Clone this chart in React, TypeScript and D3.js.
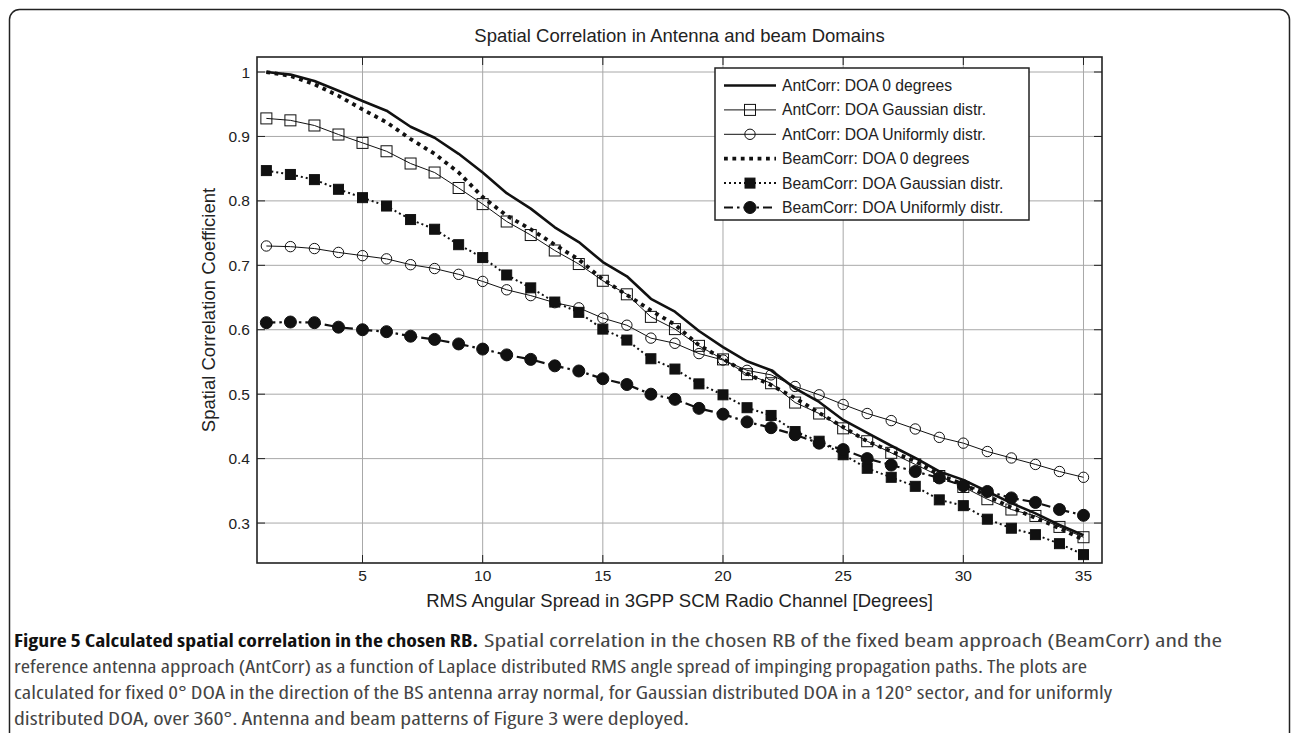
import * as d3 from "d3";

// RMS angular spread (degrees)
const spread = [1, 2, 3, 4, 5, 6, 7, 8, 9, 10, 11, 12, 13, 14, 15, 16, 17, 18, 19, 20, 21, 22, 23, 24, 25, 26, 27, 28, 29, 30, 31, 32, 33, 34, 35];

const antCorr0 = [1.0, 0.996, 0.986, 0.971, 0.955, 0.94, 0.915, 0.898, 0.873, 0.844, 0.812, 0.788, 0.759, 0.736, 0.705, 0.683, 0.648, 0.628, 0.598, 0.573, 0.551, 0.537, 0.509, 0.488, 0.46, 0.44, 0.42, 0.401, 0.38, 0.367, 0.349, 0.331, 0.315, 0.297, 0.281];
const antCorrGauss = [0.928, 0.925, 0.917, 0.903, 0.89, 0.877, 0.858, 0.844, 0.82, 0.795, 0.768, 0.747, 0.723, 0.702, 0.676, 0.655, 0.62, 0.601, 0.575, 0.554, 0.531, 0.517, 0.487, 0.47, 0.447, 0.427, 0.409, 0.391, 0.373, 0.356, 0.337, 0.321, 0.311, 0.294, 0.278];
const antCorrUni = [0.73, 0.729, 0.726, 0.72, 0.715, 0.71, 0.701, 0.695, 0.686, 0.675, 0.662, 0.653, 0.642, 0.634, 0.618, 0.607, 0.587, 0.579, 0.563, 0.553, 0.537, 0.53, 0.512, 0.499, 0.484, 0.47, 0.459, 0.446, 0.433, 0.424, 0.411, 0.401, 0.391, 0.38, 0.371];
const beamCorr0 = [1.0, 0.994, 0.981, 0.963, 0.942, 0.922, 0.896, 0.873, 0.844, 0.806, 0.777, 0.756, 0.732, 0.709, 0.678, 0.654, 0.63, 0.608, 0.576, 0.555, 0.532, 0.514, 0.494, 0.471, 0.449, 0.427, 0.411, 0.396, 0.375, 0.36, 0.342, 0.324, 0.308, 0.292, 0.274];
const beamCorrGauss = [0.847, 0.841, 0.833, 0.818, 0.805, 0.792, 0.771, 0.756, 0.732, 0.712, 0.685, 0.665, 0.643, 0.627, 0.601, 0.584, 0.555, 0.539, 0.516, 0.499, 0.479, 0.467, 0.442, 0.427, 0.406, 0.385, 0.371, 0.357, 0.336, 0.327, 0.306, 0.292, 0.282, 0.268, 0.251];
const beamCorrUni = [0.611, 0.612, 0.611, 0.604, 0.6, 0.597, 0.59, 0.585, 0.578, 0.57, 0.561, 0.554, 0.544, 0.536, 0.524, 0.515, 0.5, 0.492, 0.478, 0.469, 0.457, 0.448, 0.437, 0.424, 0.414, 0.4, 0.39, 0.38, 0.37, 0.358, 0.349, 0.339, 0.332, 0.321, 0.312];

const xTicks = [5, 10, 15, 20, 25, 30, 35];
const yTicks = [0.3, 0.4, 0.5, 0.6, 0.7, 0.8, 0.9, 1];

const seriesNames = [
  "AntCorr: DOA 0 degrees",
  "AntCorr: DOA Gaussian distr.",
  "AntCorr: DOA Uniformly distr.",
  "BeamCorr: DOA 0 degrees",
  "BeamCorr: DOA Gaussian distr.",
  "BeamCorr: DOA Uniformly distr.",
];

type Marker = "none" | "square" | "circle" | "fsquare" | "fcircle";
interface Style { width: number; dash: string | null; marker: Marker }

const styles: Style[] = [
  { width: 2.6, dash: null, marker: "none" },
  { width: 1, dash: null, marker: "square" },
  { width: 1, dash: null, marker: "circle" },
  { width: 3.8, dash: "3.8 4.6", marker: "none" },
  { width: 2, dash: "2 3", marker: "fsquare" },
  { width: 2.2, dash: "9 4 2.5 4", marker: "fcircle" },
];
const seriesValues = [antCorr0, antCorrGauss, antCorrUni, beamCorr0, beamCorrGauss, beamCorrUni];

const W = 1292;
const H = 733;
const plot = { left: 257, right: 1102, top: 57, bottom: 563 };
const FONT = "'Liberation Sans', Arial, Helvetica, sans-serif";
const CAP_FONT = "'Liberation Sans Narrow', 'Open Sans', sans-serif";

function MarkerGlyph({ kind, cx, cy }: { kind: Marker; cx: number; cy: number }) {
  if (kind === "square") return <rect x={cx - 5.5} y={cy - 5.5} width={11} height={11} fill="none" stroke="#111" strokeWidth={1} />;
  if (kind === "fsquare") return <rect x={cx - 5} y={cy - 5} width={10} height={10} fill="#111" stroke="#111" strokeWidth={1} />;
  if (kind === "circle") return <circle cx={cx} cy={cy} r={5.2} fill="none" stroke="#111" strokeWidth={1} />;
  if (kind === "fcircle") return <circle cx={cx} cy={cy} r={6} fill="#111" stroke="#111" strokeWidth={1} />;
  return null;
}

export default function App() {
  const x = d3.scaleLinear().domain([0.61, 35.77]).range([plot.left, plot.right]);
  const y = d3.scaleLinear().domain([0.238, 1.0233]).range([plot.bottom, plot.top]);
  const line = d3.line<number>().x((_, i) => x(spread[i])).y((d) => y(d));

  const legend = { x: 715, y: 68, w: 314, h: 152 };
  const rowY = (i: number) => 85.5 + i * 24.4;

  return (
    <svg width={W} height={H} style={{ position: "absolute", left: 0, top: 0, background: "#fff" }}>
      <rect x={9.5} y={9.5} width={1280} height={760} rx={10} fill="none" stroke="#222" strokeWidth={1.5} />

      {/* grid */}
      {xTicks.map((t) => (
        <line key={"gx" + t} x1={x(t)} x2={x(t)} y1={plot.top} y2={plot.bottom} stroke="#a8a8a8" strokeWidth={1} />
      ))}
      {yTicks.map((t) => (
        <line key={"gy" + t} x1={plot.left} x2={plot.right} y1={y(t)} y2={y(t)} stroke="#a8a8a8" strokeWidth={1} />
      ))}
      {/* ticks */}
      {xTicks.map((t) => (
        <g key={"tx" + t} stroke="#222" strokeWidth={1}>
          <line x1={x(t)} x2={x(t)} y1={plot.bottom} y2={plot.bottom - 8} />
          <line x1={x(t)} x2={x(t)} y1={plot.top} y2={plot.top + 8} />
        </g>
      ))}
      {yTicks.map((t) => (
        <g key={"ty" + t} stroke="#222" strokeWidth={1}>
          <line x1={plot.left} x2={plot.left + 8} y1={y(t)} y2={y(t)} />
          <line x1={plot.right} x2={plot.right - 8} y1={y(t)} y2={y(t)} />
        </g>
      ))}

      {/* series */}
      {seriesValues.map((vals, k) => (
        <path key={"s" + k} d={line(vals) || ""} fill="none" stroke="#111" strokeWidth={styles[k].width}
          strokeDasharray={styles[k].dash || undefined} strokeLinejoin="round" />
      ))}
      {seriesValues.map((vals, k) => (
        <g key={"m" + k}>
          {vals.map((v, i) => <MarkerGlyph key={i} kind={styles[k].marker} cx={x(spread[i])} cy={y(v)} />)}
        </g>
      ))}

      {/* axes box */}
      <rect x={plot.left} y={plot.top} width={plot.right - plot.left} height={plot.bottom - plot.top} fill="none" stroke="#222" strokeWidth={1.6} />

      {/* tick labels */}
      {xTicks.map((t) => (
        <text key={"lx" + t} x={x(t)} y={plot.bottom + 18} textAnchor="middle" fontFamily={FONT} fontSize={15.5} fill="#222">{t}</text>
      ))}
      {yTicks.map((t) => (
        <text key={"ly" + t} x={plot.left - 7} y={y(t) + 5.5} textAnchor="end" fontFamily={FONT} fontSize={15.5} fill="#222">{d3.format("~g")(t)}</text>
      ))}

      <text x={(plot.left + plot.right) / 2} y={42} textAnchor="middle" fontFamily={FONT} fontSize={18.5} fill="#222">
        Spatial Correlation in Antenna and beam Domains
      </text>
      <text x={(plot.left + plot.right) / 2} y={607} textAnchor="middle" fontFamily={FONT} fontSize={18.5} fill="#222">
        RMS Angular Spread in 3GPP SCM Radio Channel [Degrees]
      </text>
      <text transform={`translate(215,${(plot.top + plot.bottom) / 2}) rotate(-90)`} textAnchor="middle" fontFamily={FONT} fontSize={18.5} fill="#222">
        Spatial Correlation Coefficient
      </text>

      {/* legend */}
      <rect x={legend.x} y={legend.y} width={legend.w} height={legend.h} fill="#fff" stroke="#222" strokeWidth={1.5} />
      {seriesNames.map((name, k) => (
        <g key={"lg" + k}>
          <line x1={724} x2={776} y1={rowY(k)} y2={rowY(k)} stroke="#111" strokeWidth={styles[k].width}
            strokeDasharray={styles[k].dash || undefined} />
          <MarkerGlyph kind={styles[k].marker} cx={750} cy={rowY(k)} />
          <text x={782} y={rowY(k) + 5.5} fontFamily={FONT} fontSize={15.7} fill="#222">{name}</text>
        </g>
      ))}

      {/* caption */}
      <g fontFamily={CAP_FONT} fontSize={18} fill="#444" fontStretch="condensed">
        <text x={14} y={647} fontWeight="bold" textLength={464} lengthAdjust="spacingAndGlyphs" fill="#111">
          Figure 5 Calculated spatial correlation in the chosen RB.
        </text>
        <text x={484} y={647} textLength={738} lengthAdjust="spacingAndGlyphs">
          Spatial correlation in the chosen RB of the fixed beam approach (BeamCorr) and the
        </text>
        <text x={14} y={673} textLength={1073} lengthAdjust="spacingAndGlyphs">
          reference antenna approach (AntCorr) as a function of Laplace distributed RMS angle spread of impinging propagation paths. The plots are
        </text>
        <text x={14} y={699} textLength={1098} lengthAdjust="spacingAndGlyphs">
          calculated for fixed 0° DOA in the direction of the BS antenna array normal, for Gaussian distributed DOA in a 120° sector, and for uniformly
        </text>
        <text x={14} y={725} textLength={675} lengthAdjust="spacingAndGlyphs">
          distributed DOA, over 360°. Antenna and beam patterns of Figure 3 were deployed.
        </text>
      </g>
    </svg>
  );
}
